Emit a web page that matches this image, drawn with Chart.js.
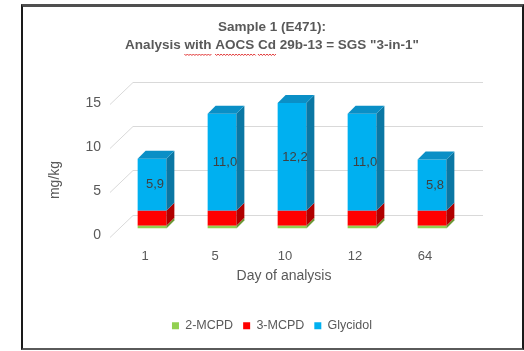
<!DOCTYPE html>
<html lang="en">
  <head>
    <meta charset="UTF-8" />
    <title>Sample 1 (E471)</title>
    <style>
      html, body {
        margin: 0;
        padding: 0;
        background: #ffffff;
      }
      .wrap {
        position: relative;
        width: 524px;
        height: 351px;
      }
      .frame {
        position: absolute;
        left: 21px;
        top: 4px;
        width: 503px;
        height: 346px;
        box-sizing: border-box;
        border-top: 3px solid #4f4f4f;
        border-left: 2px solid #1a1a1a;
        border-right: 2px solid #1a1a1a;
        border-bottom: 2px solid #5a5a5a;
        pointer-events: none;
      }
    </style>
    <script src="https://cdn.jsdelivr.net/npm/chart.js"></script>
  </head>
  <body>
    <div class="wrap">
      <canvas id="myChart" width="524" height="351"></canvas>
      <div class="frame"></div>
    </div>
    <script>
      // values
      const days = ["1", "5", "10", "12", "64"];
      const mcpd2 = [0.3, 0.3, 0.3, 0.3, 0.3];
      const mcpd3 = [1.7, 1.7, 1.7, 1.7, 1.7];
      const glycidol = [5.9, 11.0, 12.2, 11.0, 5.8];
      const titleLines = ["Sample 1 (E471):", 'Analysis with AOCS Cd 29b-13 = SGS "3-in-1"'];
      const squiggleWords = ["with", "AOCS", "Cd"];

      const grey = "#595959";
      const depth = 8;
      Chart.defaults.font.family = "'Liberation Sans', Arial, sans-serif";
      Chart.defaults.color = grey;

      // fake 3d: side and top faces behind each bar
      const boxes3d = {
        id: "boxes3d",
        beforeDatasetsDraw(chart) {
          const ctx = chart.ctx;
          const y = chart.scales.y;
          const { left, right } = chart.chartArea;
          ctx.save();
          ctx.strokeStyle = "#d9d9d9";
          ctx.lineWidth = 1;
          y.ticks.forEach((t) => {
            const py = Math.round(y.getPixelForValue(t.value)) + 0.5;
            ctx.beginPath();
            ctx.moveTo(left - 7, py + 8);
            ctx.lineTo(left + 16, py - 14);
            ctx.lineTo(right + 16, py - 14);
            ctx.stroke();
          });
          ctx.restore();
        },
        afterDatasetsDraw(chart) {
          const ctx = chart.ctx;
          const last = chart.data.datasets.length - 1;
          ctx.save();
          chart.data.datasets.forEach((ds, di) => {
            chart.getDatasetMeta(di).data.forEach((bar) => {
              const { x, y, base, width } = bar.getProps(["x", "y", "base", "width"], true);
              const l = x - width / 2;
              const r = x + width / 2;
              ctx.fillStyle = ds.sideColor;
              ctx.beginPath();
              ctx.moveTo(r, y);
              ctx.lineTo(r + depth, y - depth);
              ctx.lineTo(r + depth, base - depth);
              ctx.lineTo(r, base);
              ctx.closePath();
              ctx.fill();
              if (di === last) {
                ctx.fillStyle = ds.topColor;
                ctx.beginPath();
                ctx.moveTo(l, y);
                ctx.lineTo(l + depth, y - depth);
                ctx.lineTo(r + depth, y - depth);
                ctx.lineTo(r, y);
                ctx.closePath();
                ctx.fill();
              }
            });
          });
          // value labels on glycidol
          const meta = chart.getDatasetMeta(last);
          ctx.fillStyle = "#404040";
          ctx.font = "13px 'Liberation Sans', Arial, sans-serif";
          ctx.textAlign = "center";
          ctx.textBaseline = "middle";
          meta.data.forEach((bar, i) => {
            const { x, y, base } = bar.getProps(["x", "y", "base"], true);
            ctx.fillText(glycidol[i].toFixed(1).replace(".", ","), x + 3, (y + base) / 2);
          });
          ctx.restore();
        },
        afterDraw(chart) {
          const ctx = chart.ctx;
          const { left, right } = chart.chartArea;
          ctx.save();
          ctx.fillStyle = grey;
          ctx.font = "14px 'Liberation Sans', Arial, sans-serif";
          ctx.textAlign = "center";
          ctx.textBaseline = "middle";
          ctx.fillText("Day of analysis", (left + right) / 2 - 8, 276);
          ctx.translate(55, 180);
          ctx.rotate(-Math.PI / 2);
          ctx.fillText("mg/kg", 0, 0);
          ctx.restore();

          // spell-check squiggles under the title words
          const tb = chart.titleBlock;
          ctx.save();
          ctx.font = "bold 13.5px 'Liberation Sans', Arial, sans-serif";
          const line = titleLines[1];
          const cx = (tb.left + tb.right) / 2;
          const start = cx - ctx.measureText(line).width / 2;
          const yy = tb.top + 18 + 9 + 18 + 9;
          ctx.strokeStyle = "#e03030";
          ctx.lineWidth = 1;
          squiggleWords.forEach((w) => {
            const idx = line.indexOf(" " + w + " ") + 1;
            const x0 = start + ctx.measureText(line.slice(0, idx)).width;
            const x1 = x0 + ctx.measureText(w).width;
            ctx.beginPath();
            ctx.moveTo(x0, yy);
            for (let x = x0, k = 0; x < x1; x += 1.5, k++) {
              ctx.lineTo(x + 1.5, yy + (k % 2 ? 0 : 1.5));
            }
            ctx.stroke();
          });
          ctx.restore();
        }
      };

      const config = {
        type: "bar",
        data: {
          labels: days,
          datasets: [
            {
              label: "2-MCPD",
              data: mcpd2,
              backgroundColor: "#92d050",
              sideColor: "#6a9a34",
              topColor: "#7cb842"
            },
            {
              label: "3-MCPD",
              data: mcpd3,
              backgroundColor: "#ff0000",
              sideColor: "#b00000",
              topColor: "#d80000"
            },
            {
              label: "Glycidol",
              data: glycidol,
              backgroundColor: "#00b0f0",
              sideColor: "#0a77a4",
              topColor: "#0a8fc6"
            }
          ]
        },
        options: {
          responsive: false,
          animation: false,
          events: [],
          layout: {
            padding: { left: 20, right: 0, top: 0, bottom: 9 }
          },
          datasets: {
            bar: {
              categoryPercentage: 1,
              barPercentage: 0.41
            }
          },
          scales: {
            x: {
              stacked: true,
              grid: { display: false, drawTicks: false },
              border: { display: false },
              ticks: { padding: 20, labelOffset: -7, font: { size: 13 }, color: grey },
              afterFit: (s) => {
                s.height = 81;
              }
            },
            y: {
              stacked: true,
              min: 0,
              max: 15,
              grid: { display: false, drawTicks: false },
              border: { display: false },
              ticks: { stepSize: 5, padding: 16, labelOffset: 7, font: { size: 14 }, color: grey },
              afterFit: (s) => {
                s.width = 97;
              }
            },
            right: {
              position: "right",
              grid: { display: false, drawTicks: false },
              border: { display: false },
              ticks: { display: false },
              afterFit: (s) => {
                s.width = 57;
              }
            }
          },
          plugins: {
            title: {
              display: true,
              text: titleLines,
              color: grey,
              font: { size: 13.5, weight: "bold", lineHeight: 18 / 13.5 },
              padding: { top: 18, bottom: 42 }
            },
            legend: {
              position: "bottom",
              labels: {
                boxWidth: 7,
                boxHeight: 7,
                padding: 10,
                color: grey,
                font: { size: 12.5 }
              }
            },
            tooltip: { enabled: false }
          }
        },
        plugins: [boxes3d]
      };
      const myChart = new Chart(document.getElementById("myChart"), config);
    </script>
  </body>
</html>
